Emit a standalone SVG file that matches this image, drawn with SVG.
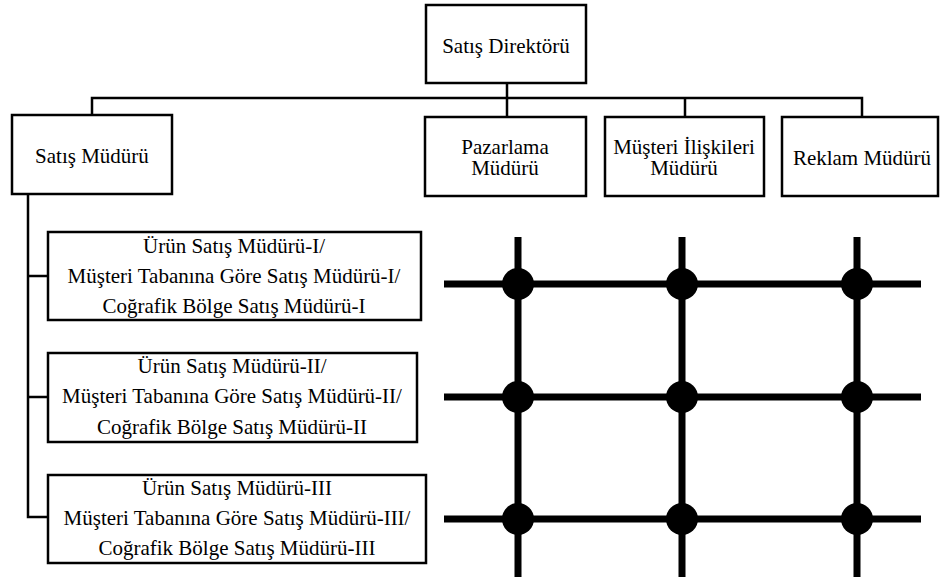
<svg xmlns="http://www.w3.org/2000/svg" width="940" height="577" viewBox="0 0 940 577">
  <defs>
    <circle id="node-dot" r="16" fill="#000"/>
  </defs>

  <g id="connectors" fill="none" stroke="#000" stroke-width="2.5">
    <path d="M507 83 V98 M92 115 V98 H862 V117 M507 98 V117 M685 98 V117"/>
    <path d="M28 194 V517 H48 M28 276 H48 M28 397 H48"/>
  </g>

  <g font-family="Liberation Serif, Times New Roman, serif" font-size="21" text-anchor="middle">
    <g fill="#fff" stroke="#000" stroke-width="2.5">
      <rect id="box-direktor" x="426" y="5" width="160" height="78"/>
      <rect id="box-satis" x="12" y="115" width="160" height="79"/>
      <rect id="box-pazarlama" x="425" y="117" width="161" height="79"/>
      <rect id="box-musteri" x="605" y="117" width="159" height="79"/>
      <rect id="box-reklam" x="782" y="117" width="156" height="79"/>
      <rect id="box-urun-1" x="48" y="232" width="373" height="88"/>
      <rect id="box-urun-2" x="48" y="353" width="369" height="89"/>
      <rect id="box-urun-3" x="48" y="475" width="378" height="88"/>
    </g>

    <g fill="#000">
      <g id="satis-direktoru">
        <text x="506" y="53">Satış Direktörü</text>
      </g>
      <g id="satis-muduru">
        <text x="92" y="163">Satış Müdürü</text>
      </g>
      <g id="pazarlama-muduru">
        <text x="505" y="154">Pazarlama</text>
        <text x="505" y="175">Müdürü</text>
      </g>
      <g id="musteri-iliskileri-muduru">
        <text x="684" y="154">Müşteri İlişkileri</text>
        <text x="684" y="175">Müdürü</text>
      </g>
      <g id="reklam-muduru">
        <text x="862" y="165">Reklam Müdürü</text>
      </g>
      <g id="satis-muduru-1">
        <text x="234" y="253">Ürün Satış Müdürü-I/</text>
        <text x="234" y="283">Müşteri Tabanına Göre Satış Müdürü-I/</text>
        <text x="234" y="313">Coğrafik Bölge Satış Müdürü-I</text>
      </g>
      <g id="satis-muduru-2">
        <text x="232" y="373">Ürün Satış Müdürü-II/</text>
        <text x="232" y="403">Müşteri Tabanına Göre Satış Müdürü-II/</text>
        <text x="232" y="434">Coğrafik Bölge Satış Müdürü-II</text>
      </g>
      <g id="satis-muduru-3">
        <text x="237" y="495">Ürün Satış Müdürü-III</text>
        <text x="237" y="525">Müşteri Tabanına Göre Satış Müdürü-III/</text>
        <text x="237" y="555">Coğrafik Bölge Satış Müdürü-III</text>
      </g>
    </g>
  </g>

  <!-- matrix grid -->
  <g id="matrix">
    <path stroke="#000" stroke-width="7" d="M444 284 H921 M444 397 H921 M444 519 H921 M518 237 V577 M682 237 V577 M857 237 V577"/>
    <use href="#node-dot" x="518" y="284"/>
    <use href="#node-dot" x="682" y="284"/>
    <use href="#node-dot" x="857" y="284"/>
    <use href="#node-dot" x="518" y="397"/>
    <use href="#node-dot" x="682" y="397"/>
    <use href="#node-dot" x="857" y="397"/>
    <use href="#node-dot" x="518" y="519"/>
    <use href="#node-dot" x="682" y="519"/>
    <use href="#node-dot" x="857" y="519"/>
  </g>
</svg>
